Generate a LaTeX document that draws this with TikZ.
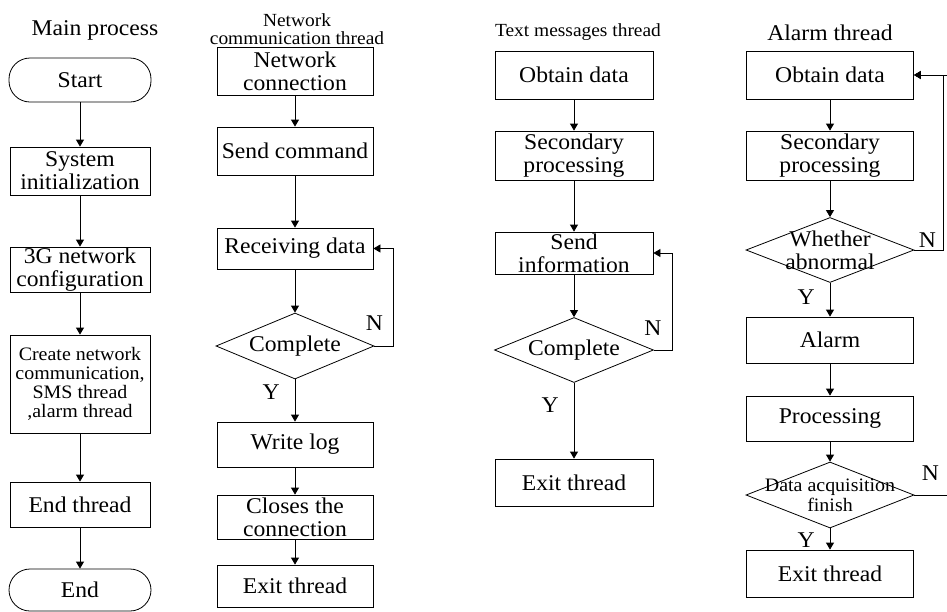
\documentclass[tikz,border=0pt]{standalone}
\usepackage{fontspec}
\setmainfont{Liberation Serif}[FakeStretch=1.05]
\usetikzlibrary{arrows.meta,shapes.geometric,positioning}
\tikzset{
 box/.style={draw, align=center, inner sep=0pt, font=\fontsize{22.5}{23}\selectfont},
 term/.style={draw, rounded corners=21pt, minimum width=142pt, minimum height=44pt, inner sep=0pt, font=\fontsize{22.5}{23}\selectfont},
 dec/.style={draw, diamond, inner sep=0pt, minimum width=158pt, minimum height=66pt},
 dtext/.style={align=center, inner sep=0pt, font=\fontsize{22.5}{23}\selectfont},
 stext/.style={align=center, inner sep=0pt, font=\fontsize{19}{20}\selectfont},
 ttl/.style={font=\fontsize{22.5}{23}\selectfont},
 ttlsmall/.style={align=center, font=\fontsize{18.5}{18.5}\selectfont},
 ylab/.style={left=13pt, inner sep=2pt, font=\fontsize{22.5}{23}\selectfont},
 nlab/.style={inner sep=0pt, font=\fontsize{22.5}{23}\selectfont}
}
\begin{document}
\begin{tikzpicture}[x=1pt,y=1pt,>={Triangle[length=7pt,width=8pt]},line width=0.8pt]
\useasboundingbox (0,0) rectangle (947,-611);
\begin{scope}[xshift=80pt, box/.append style={minimum width=140pt}]
 \node[ttl] (mp) at (15,-30) {Main process};
 \node[term] (start) at (0,-80) {Start};
 \node[box, minimum height=48pt] (init) at (0,-171) {System\\initialization};
 \node[box, minimum height=45pt] (cfg) at (0,-269.5) {3G network\\configuration};
 \node[box, font=\fontsize{19}{19}\selectfont, minimum height=98pt] (crt) at (0,-384) {Create network\\communication,\\SMS thread\\,alarm thread};
 \node[box, minimum height=45pt] (endt) at (0,-504.5) {End thread};
 \node[term, minimum height=42pt] (stop) at (0,-590) {End};
 \foreach \a/\b in {start/init,init/cfg,cfg/crt,crt/endt,endt/stop}
 {
     \draw[->] (\a) -- (\b);
 }
\end{scope}
\begin{scope}[xshift=295pt, box/.append style={minimum width=156pt}]
 \node[ttlsmall] (nt) at (2,-29) {Network\\communication thread};
 \node[box, minimum height=48pt] (conn) at (0,-71) {Network\\connection};
 \node[box, minimum height=48pt] (send) at (0,-151) {Send command};
 \node[box, minimum height=41pt] (recv) at (0,-248.5) {Receiving data};
 \node[dec, label={[dtext]center:Complete}] (cmp1) at (0,-346) {};
 \node[box, minimum height=45pt] (log) at (0,-444.5) {Write log};
 \node[box, minimum height=44pt] (close) at (0,-517) {Closes the\\connection};
 \node[box, minimum height=42pt] (exit1) at (0,-586) {Exit thread};
 \foreach \a/\b in {conn/send,send/recv,recv/cmp1,log/close,close/exit1}
 {
     \draw[->] (\a) -- (\b);
 }
 \draw[->] (cmp1) -- node[ylab, pos=0.3]{Y} (log);
 \draw[->] (cmp1.east) node[nlab, shift={(0,23)}]{N} -- ++(19,0) |- (recv.east);
\end{scope}
\begin{scope}[xshift=574pt, box/.append style={minimum width=158pt}]
 \node[ttlsmall] (tt) at (4,-32) {Text messages thread};
 \node[box, minimum height=48pt] (obt1) at (0,-75) {Obtain data};
 \node[box, minimum height=49pt] (sec1) at (0,-155.5) {Secondary\\processing};
 \node[box, minimum height=42pt] (info) at (0,-253) {Send\\information};
 \node[dec, minimum width=159pt, minimum height=65pt, label={[dtext]center:Complete}] (cmp2) at (0,-350) {};
 \node[box, minimum height=47pt] (exit2) at (0,-482.5) {Exit thread};
 \foreach \a/\b in {obt1/sec1,sec1/info,info/cmp2}
 {
     \draw[->] (\a) -- (\b);
 }
 \draw[->] (cmp2) -- node[ylab, pos=0.29]{Y} (exit2);
 \draw[->] (cmp2.east) node[nlab, shift={(-1,22)}]{N} -- ++(18,0) |- (info.east);
\end{scope}
\begin{scope}[xshift=830pt, box/.append style={minimum width=167pt}]
 \node[ttl] (at) at (0,-33) {Alarm thread};
 \node[box, minimum height=48pt] (obt2) at (0,-75) {Obtain data};
 \node[box, minimum height=49pt] (sec2) at (0,-155.5) {Secondary\\processing};
 \node[dec, minimum width=168pt, minimum height=65pt, label={[dtext]center:{Whether\\abnormal}}] (abn) at (0,-250) {};
 \node[box, minimum height=46pt] (alarm) at (0,-340) {Alarm};
 \node[box, minimum height=45pt] (proc) at (0,-418.5) {Processing};
 \node[dec, minimum width=168pt, label={[stext]center:{Data acquisition\\finish}}] (fin) at (0,-495) {};
 \node[box, minimum height=47pt] (exit3) at (0,-573.5) {Exit thread};
 \foreach \a/\b in {obt2/sec2,sec2/abn,alarm/proc,proc/fin}
 {
     \draw[->] (\a) -- (\b);
 }
 \draw[->] (abn) -- node[ylab, pos=0.41]{Y} (alarm);
 \draw[->] (fin) -- node[ylab, pos=0.55]{Y} (exit3);
 \draw[->] (abn.east) node[nlab, shift={(13,10)}]{N} -- ++(29,0) |- (obt2.east);
 \draw[->] (fin.east) node[nlab, shift={(16,22)}]{N} -- ++(34,0) |- (obt2.east);
\end{scope}
\end{tikzpicture}
\end{document}
